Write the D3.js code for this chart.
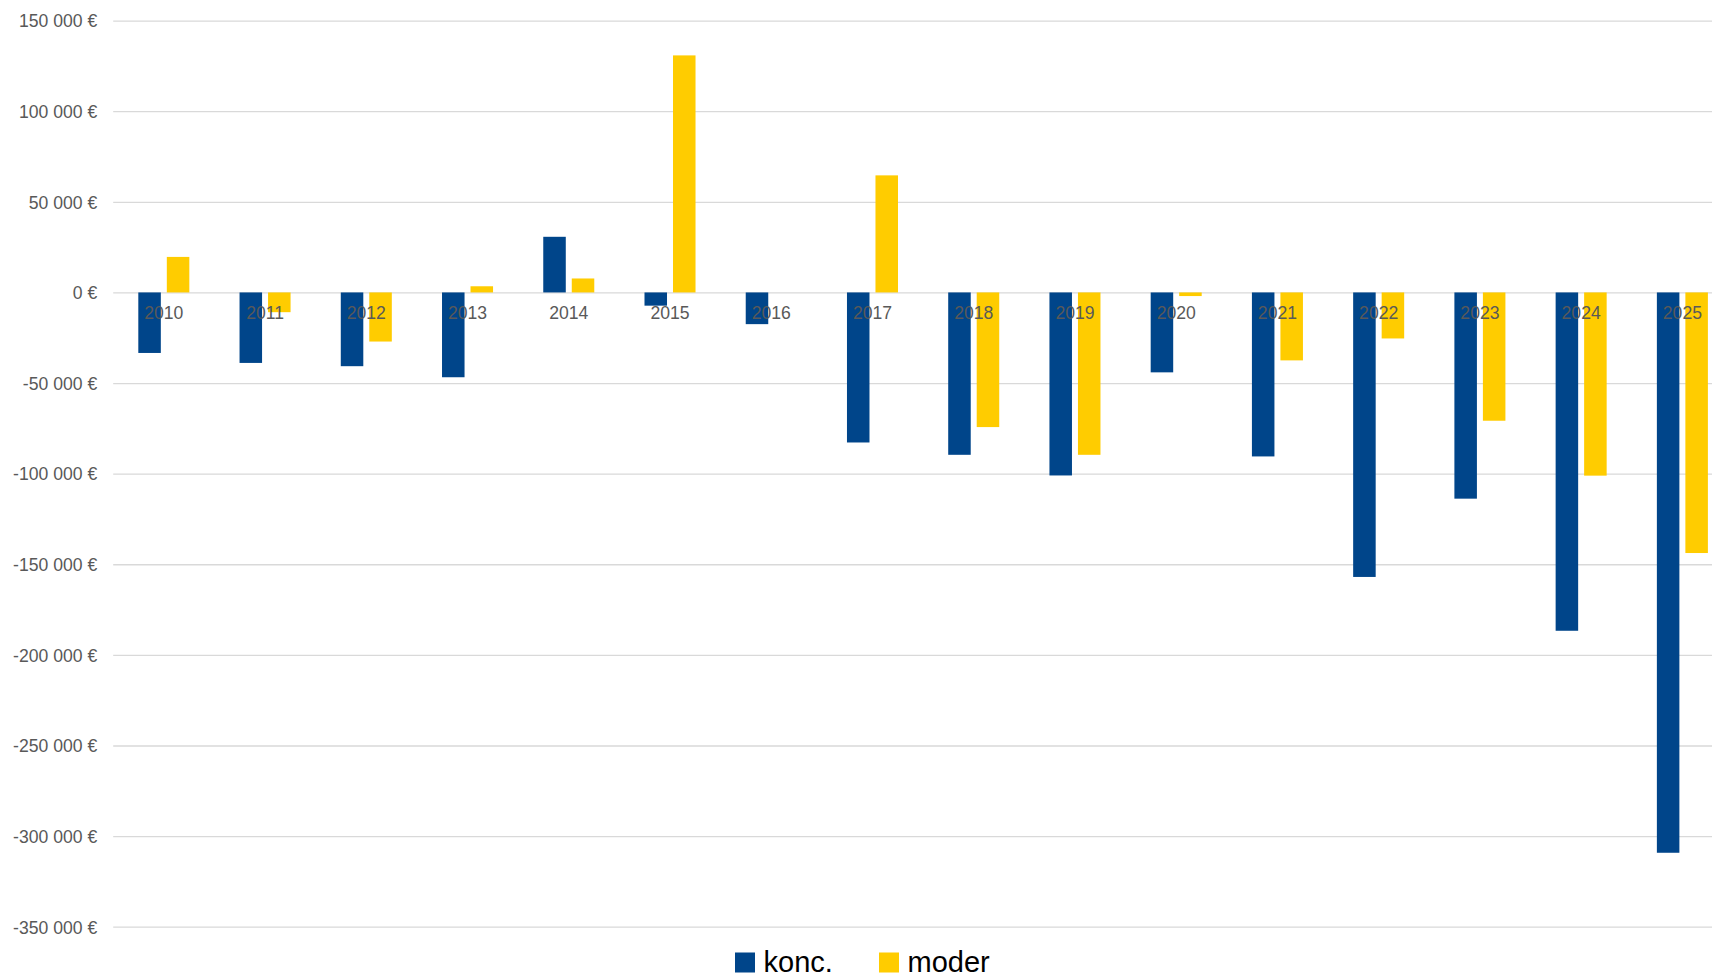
<!DOCTYPE html>
<html>
<head>
<meta charset="utf-8">
<script src="https://cdn.jsdelivr.net/npm/d3@7"></script>
<style>
  html, body { margin: 0; padding: 0; background: #ffffff; overflow: hidden; }
  svg { display: block; font-family: "Liberation Sans", Arial, sans-serif; }
</style>
</head>
<body>
<svg id="chart" width="1712" height="978"></svg>
<script>
const years = ["2010","2011","2012","2013","2014","2015","2016","2017","2018","2019","2020","2021","2022","2023","2024","2025"];
const seriesNames = ["konc.", "moder"];
const koncValues = [-33400, -38900, -40700, -46800, 30700, -7300, -17500, -82800, -89600, -101000, -44100, -90500, -157000, -113800, -186700, -309200];
const moderValues = [19600, -10900, -27100, 3400, 7700, 130800, 0, 64600, -74300, -89600, -2000, -37500, -25400, -70800, -101100, -143800];
const yTicks = [150000, 100000, 50000, 0, -50000, -100000, -150000, -200000, -250000, -300000, -350000];
const colors = ["#00458a", "#ffcc00"];

const W = 1712, H = 978;
const plotLeft = 113.2, plotRight = 1733, plotTop = 20.6, plotBottom = 926.7;

const svg = d3.select("#chart");

const x0 = d3.scaleBand().domain(years).range([plotLeft, plotRight]).paddingInner(0).paddingOuter(0);
const bw = x0.bandwidth();
const groupW = bw * 0.504;
const x1 = d3.scaleBand().domain(seriesNames)
  .range([(bw - groupW) / 2, (bw + groupW) / 2])
  .paddingInner(0.21).paddingOuter(0);
const y = d3.scaleLinear().domain([-350000, 150000]).range([plotBottom, plotTop]);

const loc = d3.formatLocale({ decimal: ",", thousands: " ", grouping: [3], currency: ["", " €"], minus: "-" });
const fmt = loc.format("$,.0f");

// gridlines via axis
const yAxis = d3.axisLeft(y).tickValues(yTicks).tickSize(-(W - plotLeft)).tickFormat(fmt).tickPadding(16);
const gAxis = svg.append("g").attr("transform", `translate(${plotLeft},0)`).call(yAxis);
gAxis.select(".domain").remove();
gAxis.selectAll(".tick line").attr("stroke", "#d9d9d9").attr("stroke-width", 1.3);
gAxis.selectAll(".tick text")
  .attr("fill", "#595959")
  .attr("font-size", "17.6px")
  .attr("font-family", "'Liberation Sans', Arial, sans-serif")
  .attr("dy", "0.36em");

// bars
const data = years.map((yr, i) => ({ year: yr, vals: [
  { key: seriesNames[0], v: koncValues[i], c: colors[0] },
  { key: seriesNames[1], v: moderValues[i], c: colors[1] }
]}));

const groups = svg.append("g").selectAll("g").data(data).join("g")
  .attr("transform", d => `translate(${x0(d.year)},0)`);
groups.selectAll("rect").data(d => d.vals.filter(v => v.v !== 0)).join("rect")
  .attr("x", d => x1(d.key))
  .attr("width", x1.bandwidth())
  .attr("y", d => y(Math.max(0, d.v)))
  .attr("height", d => Math.abs(y(d.v) - y(0)))
  .attr("fill", d => d.c);

// category labels (drawn over bars, just below zero line)
const xAxis = d3.axisBottom(x0).tickSize(0).tickPadding(0);
const gx = svg.append("g").attr("transform", `translate(0,${y(0)})`).call(xAxis);
gx.select(".domain").remove();
gx.selectAll(".tick text")
  .attr("fill", "#595959")
  .attr("font-size", "17.6px")
  .attr("font-family", "'Liberation Sans', Arial, sans-serif")
  .attr("y", 0)
  .attr("dy", 26.6);

// legend
const legendX = [735, 879];
const legend = svg.append("g").selectAll("g").data(seriesNames).join("g")
  .attr("transform", (d, i) => `translate(${legendX[i]},952.5)`);
legend.append("rect").attr("width", 20).attr("height", 20).attr("fill", (d, i) => colors[i]);
legend.append("text").attr("x", 28.5).attr("y", 19.3)
  .attr("font-size", "29px").attr("fill", "#000")
  .text(d => d);
</script>
</body>
</html>
